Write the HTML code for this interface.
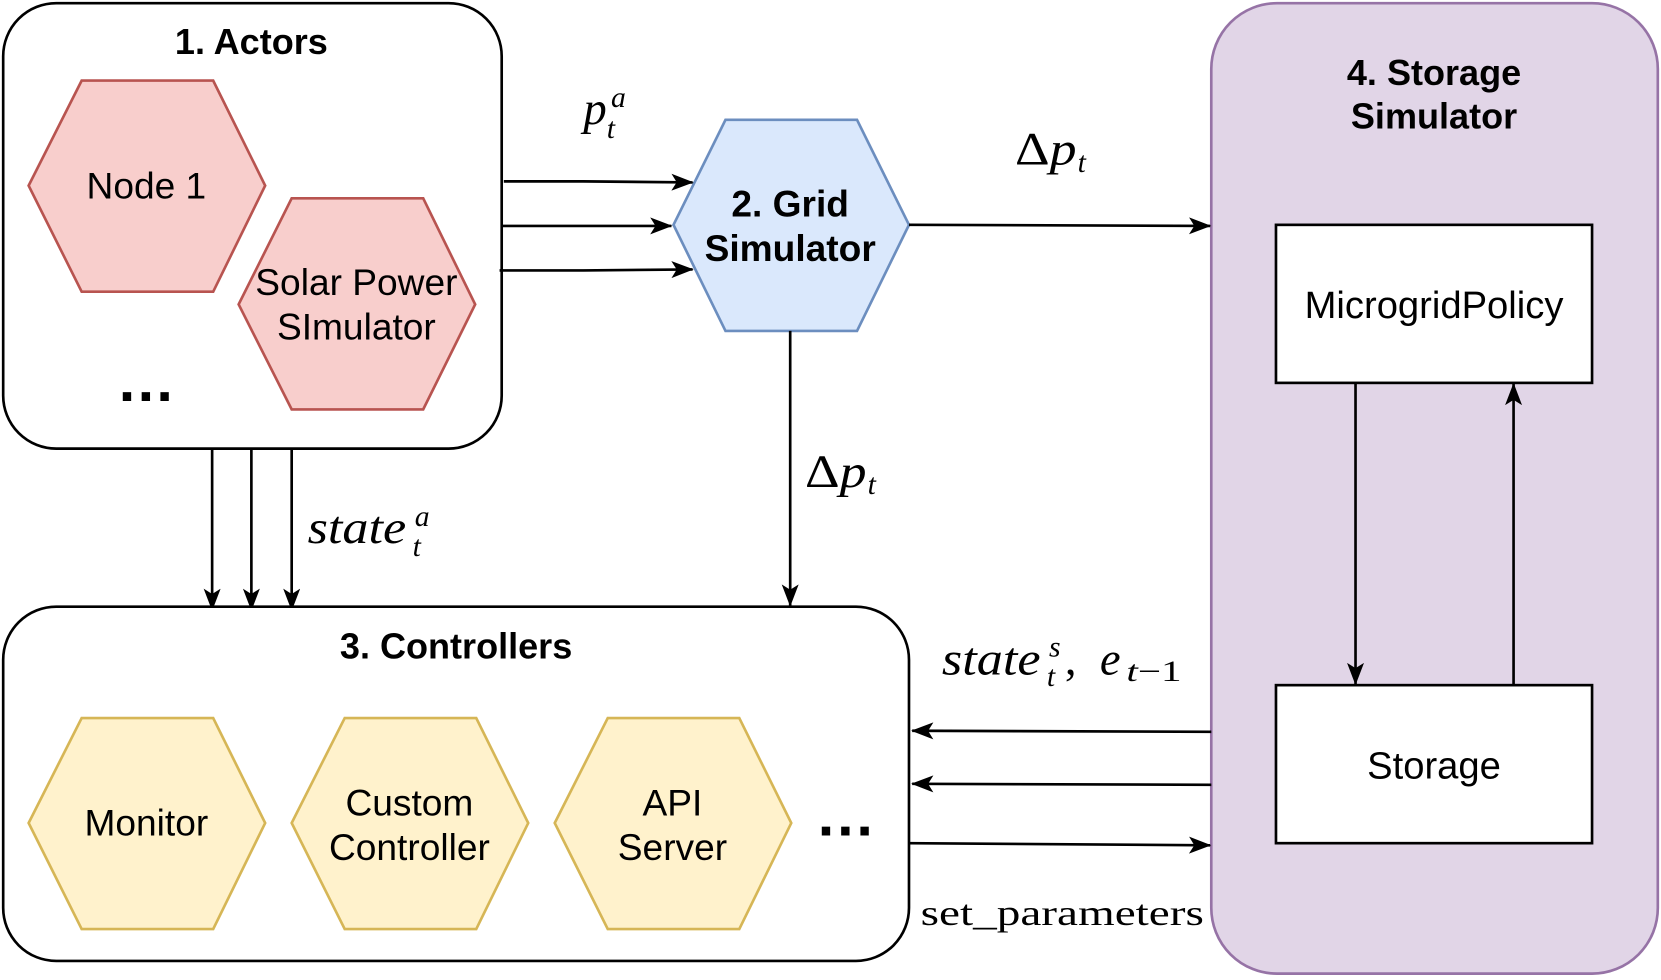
<!DOCTYPE html>
<html><head><meta charset="utf-8"><style>
html,body{margin:0;padding:0;background:#fff;}
svg{display:block;}
.s{font-family:"Liberation Sans",sans-serif;}
.m{font-family:"Liberation Serif",serif;font-style:italic;}
</style></head><body>
<svg width="1661" height="980" viewBox="0 0 1566 924" preserveAspectRatio="none" xmlns="http://www.w3.org/2000/svg">
<defs>
<marker id="b" markerWidth="22" markerHeight="16" refX="20" refY="8" orient="auto" markerUnits="userSpaceOnUse">
<path d="M0,0 L21,8 L0,16 L5,8 z" fill="#000"/>
</marker>
</defs>
<rect x="1142" y="3" width="421" height="915" rx="62" fill="#e1d5e7" stroke="#9673a6" stroke-width="2.5"/>
<text x="1352" y="80" text-anchor="middle" class="s" font-size="34" font-weight="bold">4. Storage</text>
<text x="1352" y="121" text-anchor="middle" class="s" font-size="34" font-weight="bold">Simulator</text>
<rect x="1203" y="212" width="298" height="149" fill="#fff" stroke="#000" stroke-width="2.5"/>
<text x="1352" y="300" text-anchor="middle" class="s" font-size="36">MicrogridPolicy</text>
<rect x="1203" y="646" width="298" height="149" fill="#fff" stroke="#000" stroke-width="2.5"/>
<text x="1352" y="734" text-anchor="middle" class="s" font-size="36">Storage</text>
<line x1="1278" y1="361" x2="1278" y2="645" stroke="#000" stroke-width="2.5" marker-end="url(#b)"/>
<line x1="1427" y1="646" x2="1427" y2="362" stroke="#000" stroke-width="2.5" marker-end="url(#b)"/>

<rect x="3" y="3" width="470" height="420" rx="50" fill="#fff" stroke="#000" stroke-width="2.5"/>
<text x="237" y="51" text-anchor="middle" class="s" font-size="34" font-weight="bold">1. Actors</text>
<polygon points="27,175 77,76 201,76 250,175 201,275 77,275" fill="#f8cecc" stroke="#b85450" stroke-width="2.5"/>
<text x="138" y="187" text-anchor="middle" class="s" font-size="35">Node 1</text>
<polygon points="225,287 275,187 399,187 448,287 399,386 275,386" fill="#f8cecc" stroke="#b85450" stroke-width="2.5"/>
<text x="336" y="278" text-anchor="middle" class="s" font-size="35">Solar Power</text>
<text x="336" y="320" text-anchor="middle" class="s" font-size="35">SImulator</text>
<text x="112" y="378" class="s" font-size="56" font-weight="bold" textLength="51" lengthAdjust="spacing">...</text>

<polygon points="635,212 684,113 808,113 857,212 808,312 684,312" fill="#dae8fc" stroke="#6c8ebf" stroke-width="2.5"/>
<text x="745" y="204" text-anchor="middle" class="s" font-size="35" font-weight="bold">2. Grid</text>
<text x="745" y="246" text-anchor="middle" class="s" font-size="35" font-weight="bold">Simulator</text>

<path d="M475,171 L550,171 L653,172" fill="none" stroke="#000" stroke-width="2.5" marker-end="url(#b)"/>
<line x1="473" y1="213" x2="633" y2="213" stroke="#000" stroke-width="2.5" marker-end="url(#b)"/>
<path d="M471,255 L550,255 L653,254" fill="none" stroke="#000" stroke-width="2.5" marker-end="url(#b)"/>
<text x="550" y="117" class="m" font-size="44" textLength="22" lengthAdjust="spacingAndGlyphs">p</text>
<text x="576" y="101" class="m" font-size="28">a</text>
<text x="572" y="130" class="m" font-size="28">t</text>

<line x1="857" y1="212" x2="1141" y2="213" stroke="#000" stroke-width="2.5" marker-end="url(#b)"/>
<text x="957" y="155" class="m" font-size="44" textLength="58" lengthAdjust="spacingAndGlyphs"><tspan font-style="normal">Δ</tspan>p</text>
<text x="1016" y="162" class="m" font-size="28">t</text>

<line x1="745" y1="312" x2="745" y2="571" stroke="#000" stroke-width="2.5" marker-end="url(#b)"/>
<text x="759" y="459" class="m" font-size="44" textLength="58" lengthAdjust="spacingAndGlyphs"><tspan font-style="normal">Δ</tspan>p</text>
<text x="818" y="466" class="m" font-size="28">t</text>

<line x1="200" y1="423" x2="200" y2="575" stroke="#000" stroke-width="2.5" marker-end="url(#b)"/>
<line x1="237" y1="423" x2="237" y2="575" stroke="#000" stroke-width="2.5" marker-end="url(#b)"/>
<line x1="275" y1="423" x2="275" y2="575" stroke="#000" stroke-width="2.5" marker-end="url(#b)"/>
<text x="290" y="512" class="m" font-size="44" textLength="93" lengthAdjust="spacingAndGlyphs">state</text>
<text x="391" y="496" class="m" font-size="28">a</text>
<text x="389" y="524" class="m" font-size="28">t</text>

<rect x="3" y="572" width="854" height="334" rx="50" fill="#fff" stroke="#000" stroke-width="2.5"/>
<text x="430" y="621" text-anchor="middle" class="s" font-size="34" font-weight="bold">3. Controllers</text>
<polygon points="27,776 77,677 201,677 250,776 201,876 77,876" fill="#fff2cc" stroke="#d6b656" stroke-width="2.5"/>
<text x="138" y="788" text-anchor="middle" class="s" font-size="35">Monitor</text>
<polygon points="275,776 325,677 449,677 498,776 449,876 325,876" fill="#fff2cc" stroke="#d6b656" stroke-width="2.5"/>
<text x="386" y="769" text-anchor="middle" class="s" font-size="35">Custom</text>
<text x="386" y="811" text-anchor="middle" class="s" font-size="35">Controller</text>
<polygon points="523,776 573,677 697,677 746,776 697,876 573,876" fill="#fff2cc" stroke="#d6b656" stroke-width="2.5"/>
<text x="634" y="769" text-anchor="middle" class="s" font-size="35">API</text>
<text x="634" y="811" text-anchor="middle" class="s" font-size="35">Server</text>
<text x="771" y="788" class="s" font-size="56" font-weight="bold" textLength="52" lengthAdjust="spacing">...</text>

<line x1="1142" y1="690" x2="860" y2="689" stroke="#000" stroke-width="2.5" marker-end="url(#b)"/>
<line x1="1142" y1="740" x2="860" y2="739" stroke="#000" stroke-width="2.5" marker-end="url(#b)"/>
<line x1="857" y1="795" x2="1141" y2="797" stroke="#000" stroke-width="2.5" marker-end="url(#b)"/>
<text x="888" y="636" class="m" font-size="44" textLength="93" lengthAdjust="spacingAndGlyphs">state</text>
<text x="989" y="619" class="m" font-size="28">s</text>
<text x="987" y="647" class="m" font-size="28">t</text>
<text x="1004" y="636" font-family="Liberation Serif,serif" font-size="44">,</text>
<text x="1037" y="636" class="m" font-size="44">e</text>
<text x="1062" y="642" class="m" font-size="28" textLength="52" lengthAdjust="spacingAndGlyphs">t<tspan font-style="normal">−1</tspan></text>
<text x="868" y="872" font-family="Liberation Serif,serif" font-size="34" textLength="267" lengthAdjust="spacingAndGlyphs">set_parameters</text>
</svg>
</body></html>
